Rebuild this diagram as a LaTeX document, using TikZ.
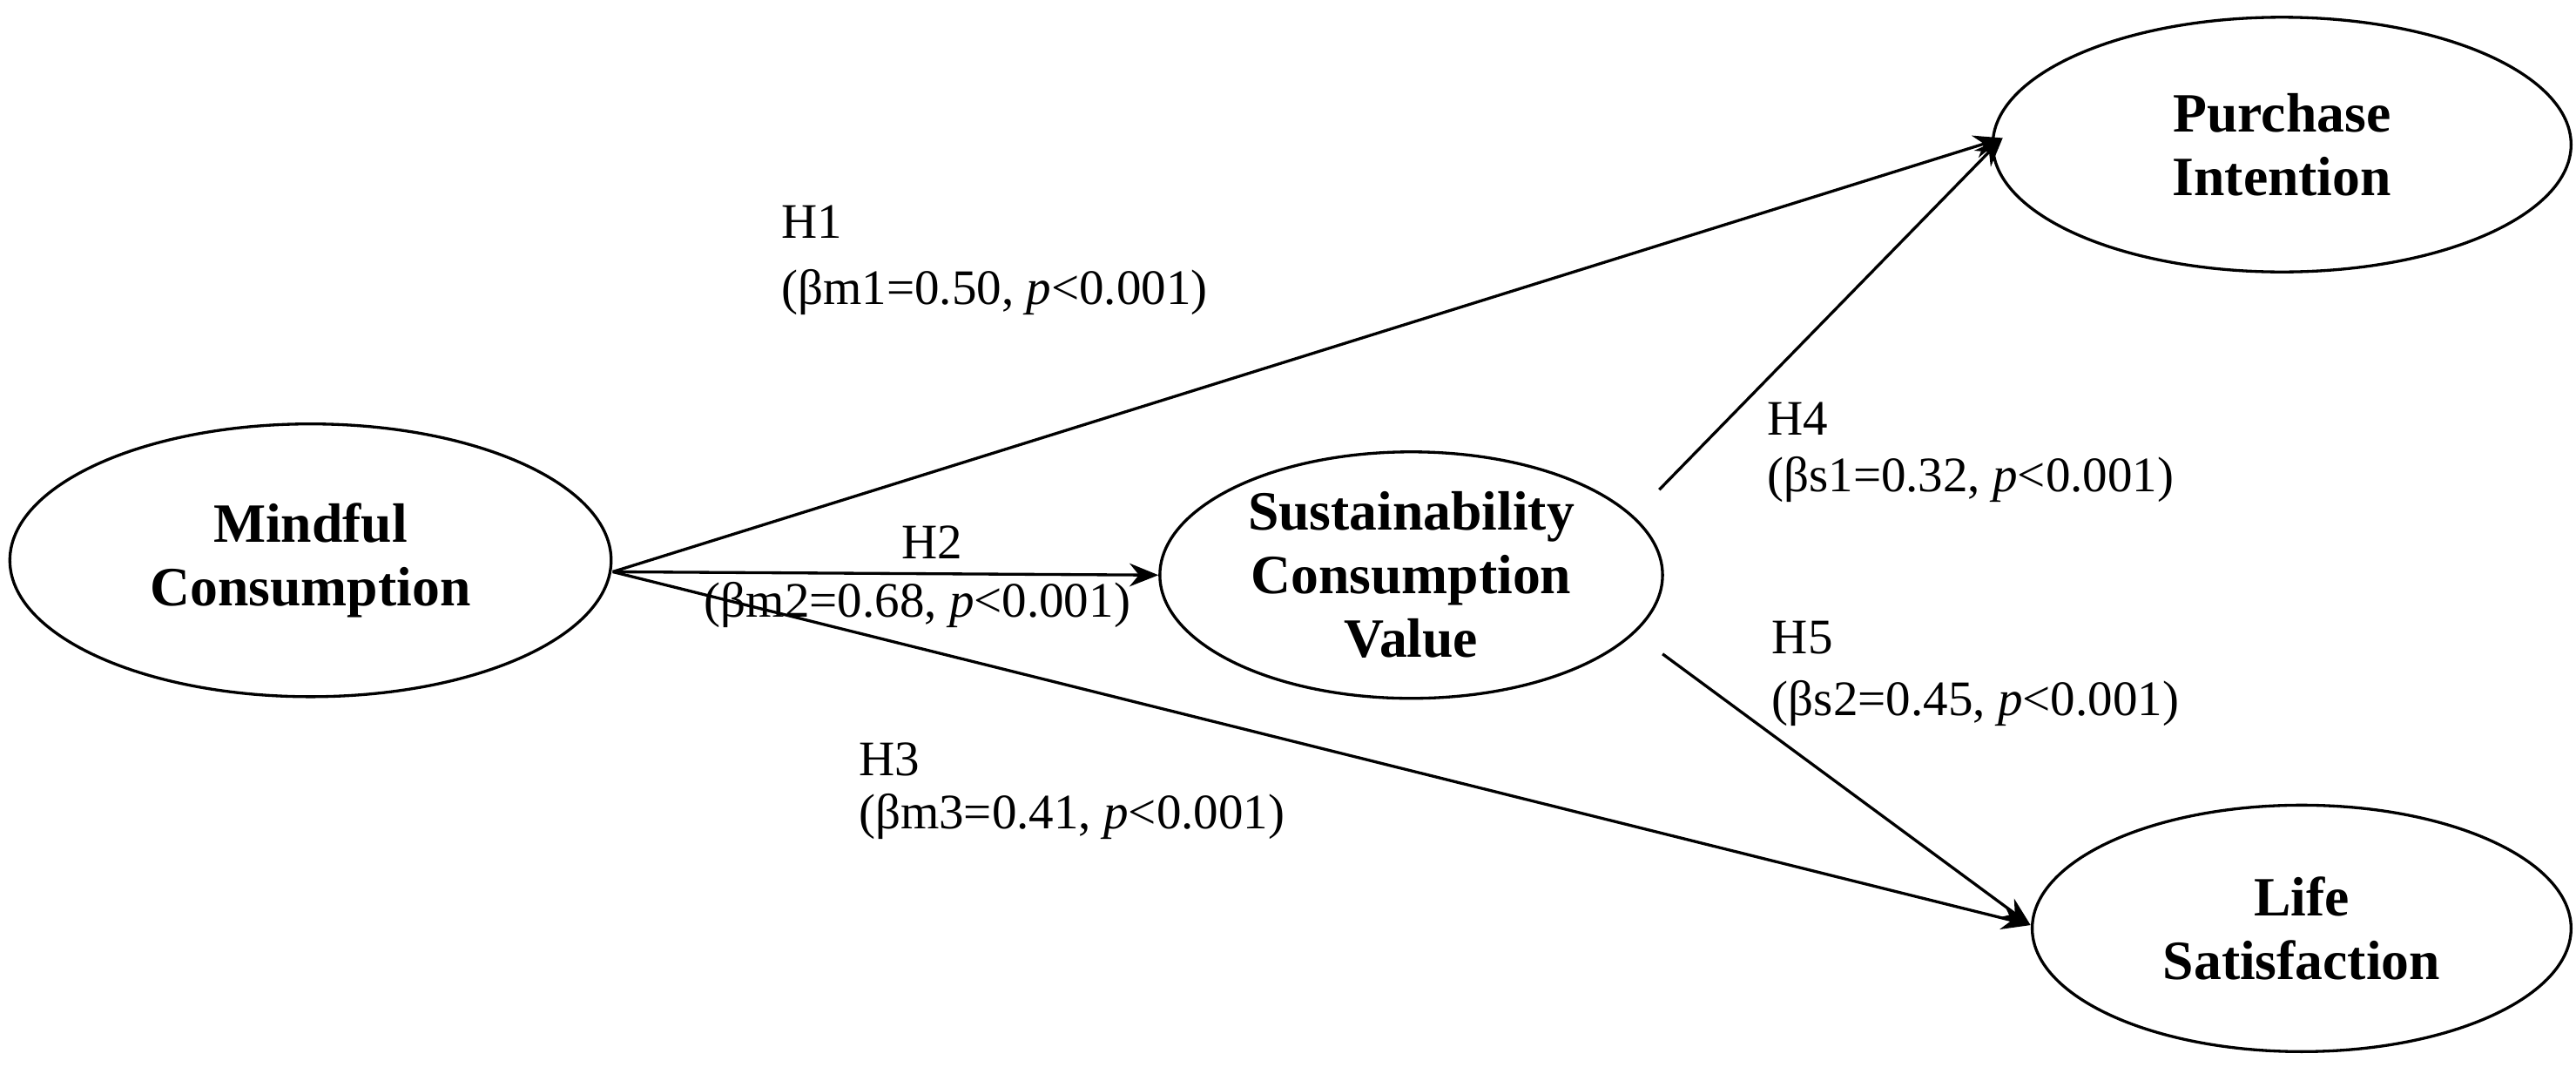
\documentclass[tikz,border=0pt]{standalone}
\usepackage{fontspec}
\setmainfont{Liberation Serif}
\usetikzlibrary{shapes.geometric,arrows.meta}
\begin{document}
\begin{tikzpicture}[x=0.1mm,y=-0.1mm,
  var/.style={ellipse,draw,line width=0.5pt,font=\fontsize{9.6}{11}\selectfont\bfseries,align=center,inner sep=0pt},
  lbl/.style={anchor=west,font=\fontsize{8.6}{10}\selectfont,inner sep=0pt},
  arr/.style={-{Stealth[length=5pt,width=4pt]},line width=0.5pt}]
\useasboundingbox (0,0) rectangle (1568,649);
\node[var,minimum width=36.6mm,minimum height=16.6mm] (mc) at (189,341) {Mindful\\Consumption};
\node[var,minimum width=30.6mm,minimum height=15mm] (scv) at (859,350) {Sustainability\\Consumption\\Value};
\node[var,minimum width=35.2mm,minimum height=15.5mm] (pi) at (1389,88) {Purchase\\Intention};
\node[var,minimum width=32.8mm,minimum height=15mm] (ls) at (1401,565) {Life\\Satisfaction};
\coordinate (m) at (373,348);
\coordinate (pin) at (1219,84);
\coordinate (lin) at (1236,563);
\coordinate (s1) at (1010,298);
\coordinate (s2) at (1012,398);
\draw[arr] (m) -- (pin);
\draw[arr] (m) -- (scv.west);
\draw[arr] (m) -- (lin);
\draw[arr] (s1) -- (pin);
\draw[arr] (s2) -- (lin);
\node[lbl] (h1) at (475,135) {H1};
\node[lbl] (b1) at (475,178) {(βm1=0.50, \textit{p}<0.001)};
\node[lbl] (h2) at (548,330) {H2};
\node[lbl] (b2) at (428,368) {(βm2=0.68, \textit{p}<0.001)};
\node[lbl] (h3) at (522,462) {H3};
\node[lbl] (b3) at (522,497) {(βm3=0.41, \textit{p}<0.001)};
\node[lbl] (h4) at (1075,255) {H4};
\node[lbl] (b4) at (1075,292) {(βs1=0.32, \textit{p}<0.001)};
\node[lbl] (h5) at (1078,388) {H5};
\node[lbl] (b5) at (1078,428) {(βs2=0.45, \textit{p}<0.001)};
\end{tikzpicture}
\end{document}
